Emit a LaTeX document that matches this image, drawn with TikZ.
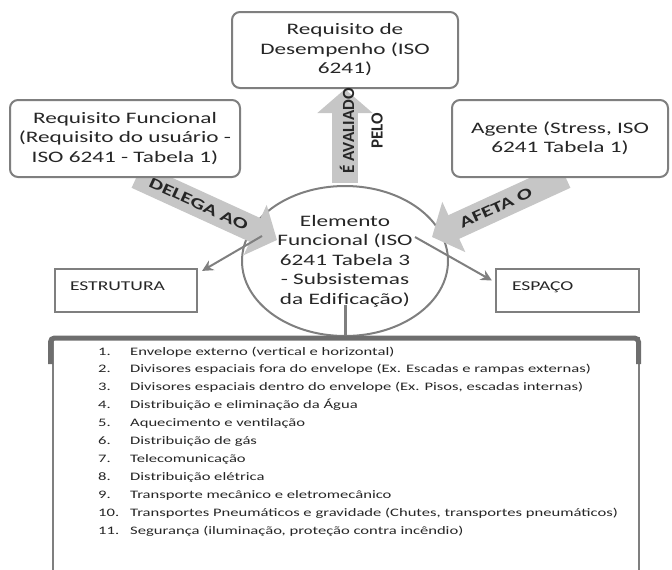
\documentclass[tikz,border=0pt]{standalone}
\usepackage{fontspec}
\setmainfont{Carlito}[FakeStretch=1.45]
\newfontfamily\uprightlabel{Carlito}
\usetikzlibrary{arrows.meta,shapes.geometric,calc}
\pgfdeclarelayer{ring}
\pgfdeclarelayer{bands}
\pgfsetlayers{ring,bands,main}

\definecolor{edge}{HTML}{7F7F7F}
\definecolor{edgedark}{HTML}{6E6E6E}
\definecolor{band}{HTML}{C6C6C6}
\definecolor{ink}{HTML}{262626}

\tikzset{
  roundbox/.style={draw=edge, line width=2pt, rounded corners=8pt, fill=white,
    align=center, text=ink, inner sep=0pt, font=\fontsize{16}{19.5}\selectfont},
  ringnode/.style={ellipse, draw=edge, line width=2pt, align=center, text=ink,
    inner sep=0pt, font=\fontsize{16}{19.5}\selectfont},
  plainbox/.style={draw=edge, line width=2.2pt, fill=white, text=ink, align=left,
    inner ysep=0pt, text height=9pt, text depth=9pt, font=\fontsize{13.5}{15}\selectfont},
  bandarrow/.style={draw=band, line width=26pt, -{Triangle[length=24pt,width=54pt]}},
  bandlabel/.style={text=ink, inner sep=0pt, font=\bfseries\fontsize{15.5}{18}\selectfont},
  uplabel/.style={text=ink, inner sep=0pt, rotate=90, font=\uprightlabel\bfseries\fontsize{17}{19}\selectfont},
  thinarrow/.style={draw=edge, line width=2pt, -{Stealth[length=11pt,width=11pt]}},
  itemrow/.style={text=ink, inner sep=0pt, anchor=base west, font=\fontsize{11.45}{13}\selectfont},
}

\begin{document}
\begin{tikzpicture}[x=1pt,y=-1pt]
\useasboundingbox (0,0) rectangle (672,570);

% requirement boxes
\node[roundbox, minimum width=226pt, minimum height=76pt] (perf) at (345,50)
  {Requisito de\\Desempenho (ISO\\6241)};
\node[roundbox, minimum width=230pt, minimum height=77pt] (func) at (125,138.5)
  {Requisito Funcional\\(Requisito do usuário -\\ISO 6241 - Tabela 1)};
\node[roundbox, minimum width=216pt, minimum height=77pt] (agent) at (560,138.5)
  {Agente (Stress, ISO\\6241 Tabela 1)};

% central functional element
\begin{pgfonlayer}{ring}
\node[ringnode, minimum width=206pt, minimum height=150pt] (elem) at (345,261)
  {Elemento\\Funcional (ISO\\6241 Tabela 3\\- Subsistemas\\da Edificação)};
\end{pgfonlayer}

% side boxes
\node[plainbox, minimum width=142pt, minimum height=43pt, text width=112pt, inner xsep=15pt] (estr) at (126,290.5) {ESTRUTURA};
\node[plainbox, minimum width=143pt, minimum height=43pt, text width=111pt, inner xsep=16pt] (esp) at (567.5,290.5) {ESPAÇO};

% wide grey relation arrows
\begin{pgfonlayer}{bands}
\draw[bandarrow] ($(func.south)+(12,-2)$) -- ($(elem.center)+(-68,-21)$)
  node[bandlabel, pos=0.44, sloped] (delega) {DELEGA AO};
\draw[bandarrow] ($(agent.south)+(5,-2)$) -- ($(elem.center)+(87,-24)$)
  node[bandlabel, pos=0.52, sloped] (afeta) {AFETA O};
\draw[bandarrow] ($(elem.north)+(0,-2)$) -- (perf.south);
\end{pgfonlayer}
\node[uplabel] (avaliado) at (347,131) {É AVALIADO};
\node[uplabel] (pelo) at (377,131) {PELO};

% thin arrows to the side boxes
\draw[thinarrow] ($(elem.center)+(-83,-25)$) -- ($(estr.north east)+(4,3)$);
\draw[thinarrow] ($(elem.center)+(70,-24)$) -- ($(esp.west)+(-3,-10)$);

% list frame below the element
\coordinate (listtop) at (345,338);
\draw[edge, line width=3pt] ($(elem.center)+(0,44)$) -- (listtop);
\draw[edge, line width=2.4pt] (53,570) -- (53,338) -- (639,338) -- (639,570);
\draw[edgedark, line width=5pt, rounded corners=4pt] (50.5,364) -- (50.5,338) -- (638.5,338) -- (638.5,364);

% subsystem list
\foreach \i/\t in {
  1/{Envelope externo (vertical e horizontal)},
  2/{Divisores espaciais fora do envelope (Ex. Escadas e rampas externas)},
  3/{Divisores espaciais dentro do envelope (Ex. Pisos, escadas internas)},
  4/{Distribuição e eliminação da Água},
  5/{Aquecimento e ventilação},
  6/{Distribuição de gás},
  7/{Telecomunicação},
  8/{Distribuição elétrica},
  9/{Transporte mecânico e eletromecânico},
  10/{Transportes Pneumáticos e gravidade (Chutes, transportes pneumáticos)},
  11/{Segurança (iluminação, proteção contra incêndio)}} {
  \node[itemrow] (num\i) at (98,{355+17.9*(\i-1)}) {\i.};
  \node[itemrow] (item\i) at (130,{355+17.9*(\i-1)}) {\t};
}
\end{tikzpicture}
\end{document}
